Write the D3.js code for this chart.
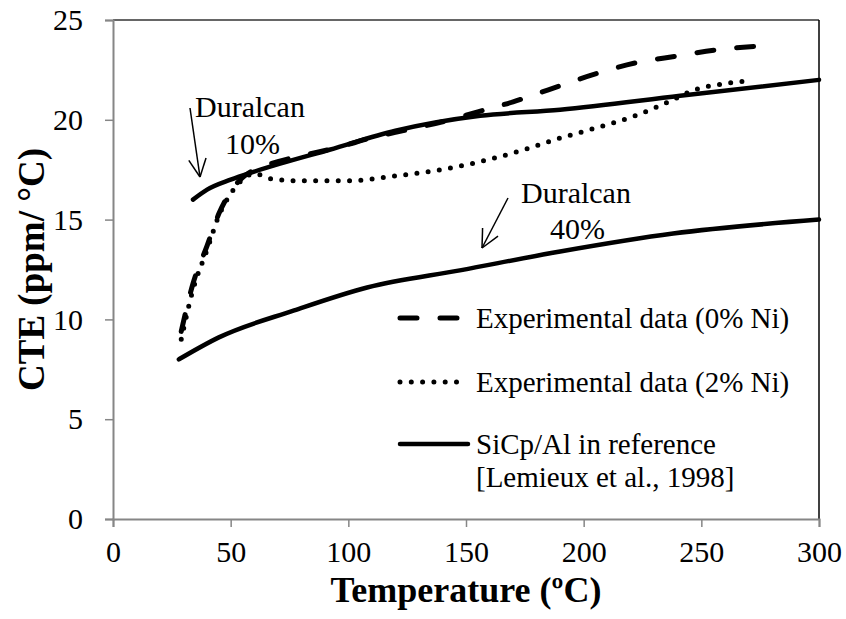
<!DOCTYPE html>
<html>
<head>
<meta charset="utf-8">
<script src="https://cdn.jsdelivr.net/npm/d3@7"></script>
<style>
  body { margin: 0; background: #fff; }
  text { font-family: "Liberation Serif", "Times New Roman", serif; fill: #000; }
</style>
</head>
<body>
<div id="chart"></div>
<script>
// values: [temperature °C, CTE ppm/°C]
var exp0Ni = [[29, 9.4], [34, 11.8], [40, 13.7], [45, 15.3], [50, 16.4], [55, 17.1], [60, 17.5],
    [70, 17.9], [80, 18.2], [95, 18.6], [110, 19.1], [125, 19.5], [140, 19.9], [155, 20.4],
    [170, 20.9], [185, 21.5], [205, 22.3], [222, 22.85], [240, 23.2], [256, 23.5], [275, 23.7]];
var exp2Ni = [[29, 9.0], [34, 11.5], [40, 13.5], [45, 15.2], [50, 16.3], [55, 17.0], [60, 17.3],
    [67, 17.05], [77, 16.95], [100, 16.95], [121, 17.2], [142, 17.55], [161, 18.05], [176, 18.55],
    [189, 19.05], [204, 19.55], [223, 20.25], [237, 20.95], [246, 21.45], [261, 21.83], [271, 21.96]];
var ref10 = [[34, 16.0], [40, 16.5], [50, 17.0], [60, 17.4], [71, 17.8], [92, 18.5], [120, 19.45],
    [156, 20.2], [190, 20.5], [241, 21.2], [300, 22.0]];
var ref40 = [[28, 8.0], [45, 9.1], [77, 10.45], [108, 11.6], [148, 12.47], [190, 13.4],
    [238, 14.3], [300, 15.0]];

var xTicks = [0, 50, 100, 150, 200, 250, 300];
var yTicks = [0, 5, 10, 15, 20, 25];
var legendLabels = ["Experimental data (0% Ni)", "Experimental data (2% Ni)", "SiCp/Al in reference"];

drawChart();

function drawChart() {
    var width = 846;
    var height = 619;
    var mLeft = 113, mRight = 819, mTop = 20, mBottom = 519;

    var svg = d3.select('#chart')
        .append('svg')
        .attr('width', width)
        .attr('height', height);

    var x = d3.scaleLinear().domain([0, 300]).range([mLeft, mRight]);
    var y = d3.scaleLinear().domain([0, 25]).range([mBottom, mTop]);

    // frame (top and right)
    svg.append('line').attr('x1', mLeft).attr('x2', mRight).attr('y1', mTop).attr('y2', mTop)
        .attr('stroke', '#333').attr('stroke-width', 1.5);
    svg.append('line').attr('x1', mRight).attr('x2', mRight).attr('y1', mTop).attr('y2', mBottom)
        .attr('stroke', '#000').attr('stroke-width', 1.5);

    var xAxis = svg.append('g')
        .attr('transform', 'translate(0,' + mBottom + ')')
        .call(d3.axisBottom(x).tickValues(xTicks).tickSize(8).tickPadding(14));
    var yAxis = svg.append('g')
        .attr('transform', 'translate(' + mLeft + ',0)')
        .call(d3.axisLeft(y).tickValues(yTicks).tickSize(8).tickPadding(22));

    [xAxis, yAxis].forEach(function(a) {
        a.select('.domain').attr('stroke', '#868686').attr('stroke-width', 2);
        a.selectAll('.tick line').attr('stroke', '#868686').attr('stroke-width', 1.5);
        a.selectAll('.tick text')
            .attr('font-family', '"Liberation Serif", serif')
            .attr('font-size', 30)
            .attr('fill', '#000');
    });

    var line = d3.line().x(d => x(d[0])).y(d => y(d[1])).curve(d3.curveMonotoneX);

    svg.append('path').datum(ref10).attr('d', line)
        .attr('fill', 'none').attr('stroke', '#000').attr('stroke-width', 4.5).attr('stroke-linecap', 'round');
    svg.append('path').datum(ref40).attr('d', line)
        .attr('fill', 'none').attr('stroke', '#000').attr('stroke-width', 4.5).attr('stroke-linecap', 'round');
    svg.append('path').datum(exp0Ni).attr('d', line)
        .attr('fill', 'none').attr('stroke', '#000').attr('stroke-width', 5)
        .attr('stroke-linecap', 'round').attr('stroke-dasharray', '17,23');
    svg.append('path').datum(exp2Ni).attr('d', line)
        .attr('fill', 'none').attr('stroke', '#000').attr('stroke-width', 5)
        .attr('stroke-linecap', 'round').attr('stroke-dasharray', '0,11.3');

    // legend
    var legendY = [318, 382, 444];
    var legendDash = ['17,23', '0,11.3', null];
    var lg = svg.append('g');
    legendLabels.forEach(function(lab, i) {
        lg.append('line')
            .attr('x1', 400).attr('x2', i === 2 ? 468 : 460)
            .attr('y1', legendY[i]).attr('y2', legendY[i])
            .attr('stroke', '#000').attr('stroke-width', i === 2 ? 4.5 : 5)
            .attr('stroke-linecap', 'round')
            .attr('stroke-dasharray', legendDash[i]);
        lg.append('text').attr('x', 476).attr('y', legendY[i] + 10)
            .attr('font-size', 29).text(lab);
    });
    lg.append('text').attr('x', 476).attr('y', 487).attr('font-size', 29).text('[Lemieux et al., 1998]');

    // annotations with open arrowheads
    function arrow(x1, y1, x2, y2) {
        var ang = Math.atan2(y2 - y1, x2 - x1);
        var len = 20, spread = 0.45;
        svg.append('line').attr('x1', x1).attr('y1', y1).attr('x2', x2).attr('y2', y2)
            .attr('stroke', '#000').attr('stroke-width', 1.5);
        [-spread, spread].forEach(function(s) {
            svg.append('line').attr('x1', x2).attr('y1', y2)
                .attr('x2', x2 - len * Math.cos(ang + s)).attr('y2', y2 - len * Math.sin(ang + s))
                .attr('stroke', '#000').attr('stroke-width', 1.5);
        });
    }
    arrow(190, 108, 200, 177);
    arrow(508, 198, 482, 248);

    svg.append('text').attr('x', 195).attr('y', 117).attr('font-size', 30).text('Duralcan');
    svg.append('text').attr('x', 225).attr('y', 154).attr('font-size', 30).text('10%');
    svg.append('text').attr('x', 521).attr('y', 203).attr('font-size', 30).text('Duralcan');
    svg.append('text').attr('x', 550).attr('y', 239).attr('font-size', 30).text('40%');

    // axis titles
    svg.append('text')
        .attr('x', (mLeft + mRight) / 2).attr('y', 602)
        .attr('text-anchor', 'middle').attr('font-size', 36).attr('font-weight', 'bold')
        .text('Temperature (ºC)');
    svg.append('text')
        .attr('transform', 'translate(44,' + ((mTop + mBottom) / 2) + ') rotate(-90)')
        .attr('text-anchor', 'middle').attr('font-size', 37).attr('font-weight', 'bold')
        .text('CTE (ppm/ °C)');
}
</script>
</body>
</html>
